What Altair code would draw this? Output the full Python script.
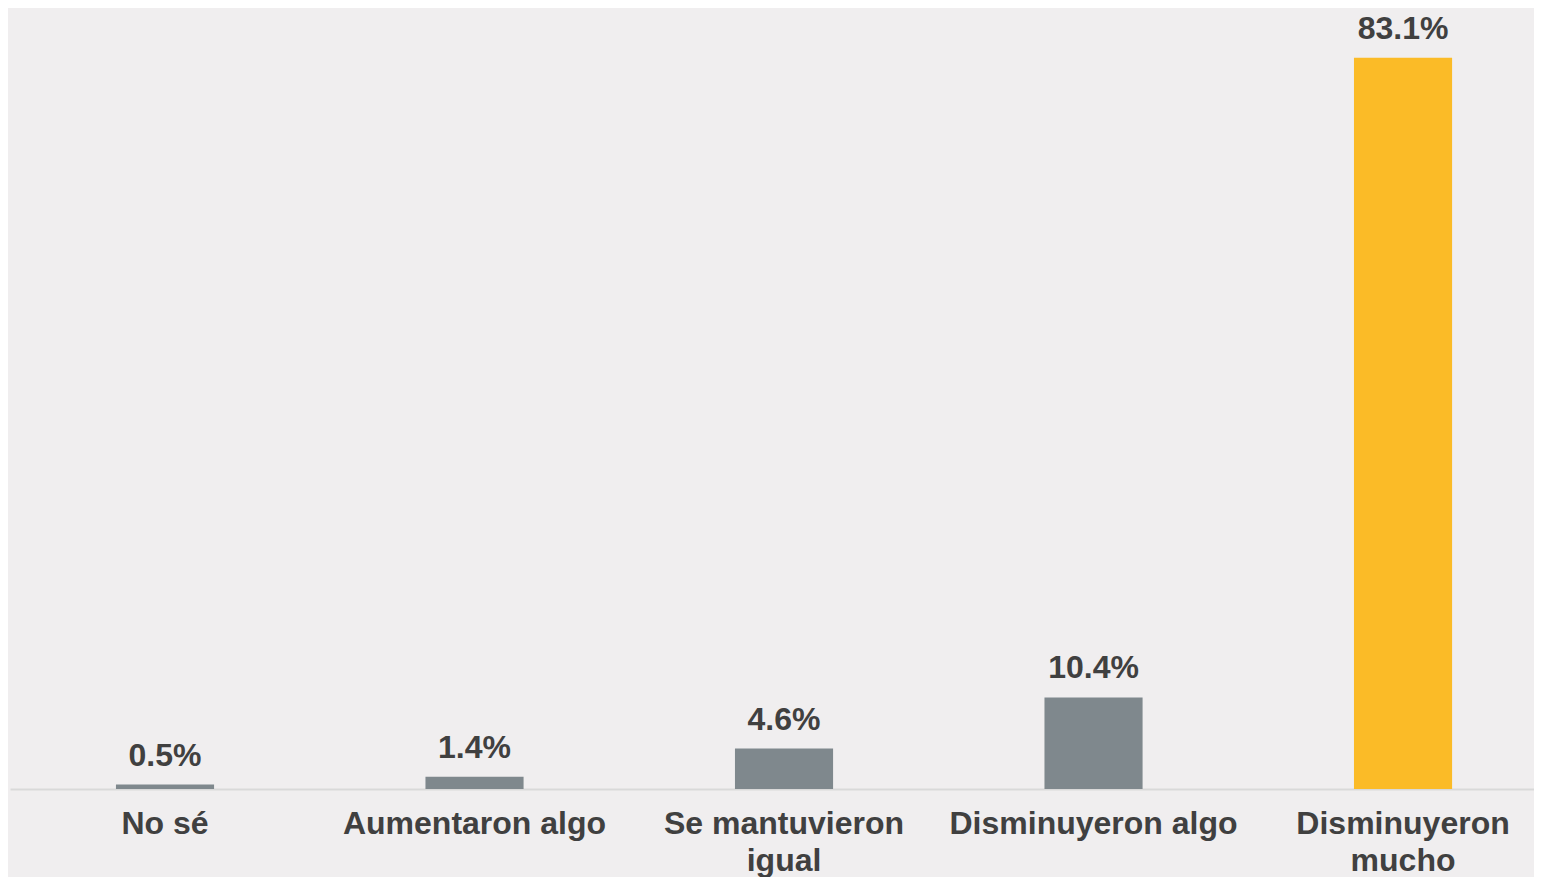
import altair as alt
import pandas as pd

categories = ["No sé", "Aumentaron algo", "Se mantuvieron|igual", "Disminuyeron algo", "Disminuyeron|mucho"]
values = [0.5, 1.4, 4.6, 10.4, 83.1]
highlight = "Disminuyeron|mucho"

df = pd.DataFrame({"cat": categories, "val": values})
df["lbl"] = [f"{v:.1f}%" for v in values]

FONT = "Liberation Sans"
x_enc = alt.X(
    "cat:N",
    sort=categories,
    title=None,
    scale=alt.Scale(paddingInner=0.683, paddingOuter=0.3035, align=0.564),
    axis=alt.Axis(
        labelAngle=0,
        labelExpr="split(datum.label, '|')",
        labelFont=FONT,
        labelFontSize=32,
        labelFontWeight="bold",
        labelColor="#404040",
        labelLineHeight=37,
        labelBaseline="top",
        labelPadding=19,
        labelLimit=0,
        ticks=False,
        tickSize=0,
        domainColor="#D9D9D9",
        domainWidth=2,
        grid=False,
    ),
)
y_enc = alt.Y("val:Q", scale=alt.Scale(domain=[0, 88.75], nice=False, zero=True), axis=None)

base = alt.Chart(df)
bars = base.mark_bar().encode(
    x=x_enc,
    y=y_enc,
    color=alt.condition(alt.datum.cat == highlight, alt.value("#FBBB27"), alt.value("#7F888D")),
)
text = base.mark_text(
    font=FONT, fontSize=32, fontWeight="bold", color="#404040", baseline="alphabetic", dy=-19
).encode(x=alt.X("cat:N", sort=categories), y="val:Q", text="lbl:N")

chart = (
    alt.layer(bars, text)
    .properties(
        width=1524,
        height=781,
        autosize=alt.AutoSizeParams(type="none"),
        padding={"left": 2, "top": 0, "right": 0, "bottom": 88},
        background="#F0EEEF",
    )
    .configure_view(stroke=None)
)

chart.save("out.html", embed_options={"renderer": "svg", "actions": False})
